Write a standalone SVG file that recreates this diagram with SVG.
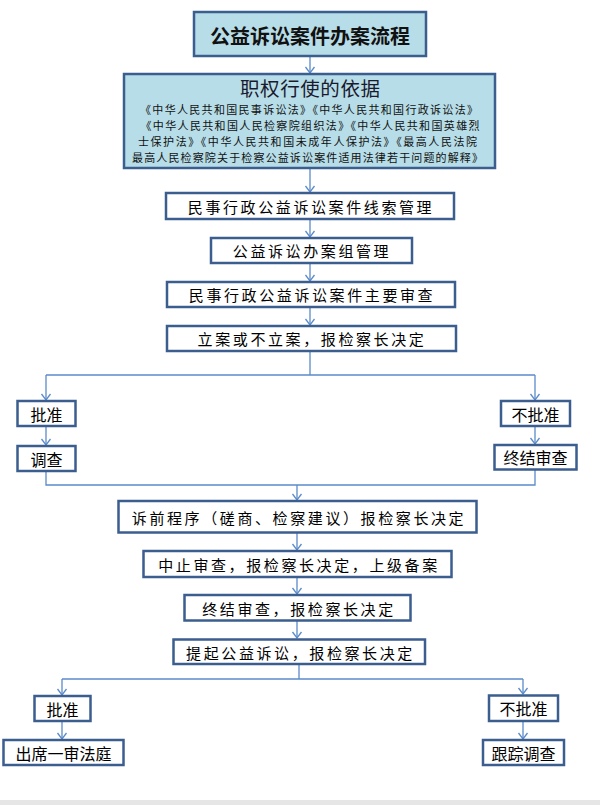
<svg xmlns="http://www.w3.org/2000/svg" width="600" height="805" viewBox="0 0 600 805">
<defs>
<style>
.box{fill:#ffffff;stroke:#3b5e8f;stroke-width:2.5}
.hl{fill:#b7dde8}
.t{font-family:"Noto Sans CJK SC","Liberation Sans",sans-serif;font-size:15px;letter-spacing:2.6px;fill:#000;text-anchor:middle;dominant-baseline:central}
.s{font-family:"Noto Sans CJK SC","Liberation Sans",sans-serif;font-size:16px;fill:#000;text-anchor:middle;dominant-baseline:central}
.law{font-family:"Noto Sans CJK SC","Liberation Sans",sans-serif;font-size:11px;fill:#111;text-anchor:middle}
.c{fill:none;stroke:#5b8bc9;stroke-width:1.3}
.a{marker-end:url(#ah)}
</style>
<marker id="ah" markerUnits="userSpaceOnUse" markerWidth="12" markerHeight="12" viewBox="0 0 12 12" refX="7" refY="6" orient="auto">
<path d="M1,1.5 L7,6 L1,10.5" fill="none" stroke="#5b8bc9" stroke-width="1.3"/>
</marker>
</defs>
<rect x="0" y="0" width="600" height="805" fill="#ffffff"/>
<rect x="0" y="800" width="600" height="5" fill="#e6e6e6"/>
<g id="connectors">
<path class="c a" d="M310,56 V73"/>
<path class="c a" d="M310,168 V192"/>
<path class="c a" d="M310,219 V237"/>
<path class="c a" d="M310,263 V281"/>
<path class="c a" d="M310,307 V325"/>
<path class="c" d="M310,351 V375 M46,375 H535"/>
<path class="c a" d="M46,375 V400"/>
<path class="c a" d="M535,375 V400"/>
<path class="c a" d="M46,426 V445"/>
<path class="c a" d="M535,426 V444"/>
<path class="c" d="M46,471 V485 H535 V469"/>
<path class="c a" d="M297,485 V500"/>
<path class="c a" d="M297,533 V550"/>
<path class="c a" d="M297,577 V594"/>
<path class="c a" d="M297,621 V638"/>
<path class="c" d="M299,664 V679 M62,679 H523"/>
<path class="c a" d="M62,679 V695"/>
<path class="c a" d="M523,679 V694"/>
<path class="c a" d="M62,721 V739"/>
<path class="c a" d="M523,721 V739"/>
</g>
<g id="n-title">
<rect class="box hl" x="194" y="12" width="232" height="44"/>
<text x="310" y="35" font-family="Noto Sans CJK SC,Liberation Sans,sans-serif" font-size="20" font-weight="bold" fill="#111" text-anchor="middle" dominant-baseline="central">公益诉讼案件办案流程</text>
</g>
<g id="n-basis">
<rect class="box hl" x="124" y="74" width="371" height="94"/>
<text x="310" y="95.5" font-family="Noto Sans CJK SC,Liberation Sans,sans-serif" font-size="19.5" fill="#1a1a2e" text-anchor="middle" textLength="140" lengthAdjust="spacing">职权行使的依据</text>
<text class="law" x="309" y="113.8" textLength="338" lengthAdjust="spacing">《中华人民共和国民事诉讼法》《中华人民共和国行政诉讼法》</text>
<text class="law" x="310" y="129.7" textLength="339" lengthAdjust="spacing">《中华人民共和国人民检察院组织法》《中华人民共和国英雄烈</text>
<text class="law" x="307.5" y="145.6" textLength="339" lengthAdjust="spacing">士保护法》《中华人民共和国未成年人保护法》《最高人民法院</text>
<text class="law" x="307.5" y="161.5" textLength="351" lengthAdjust="spacing">最高人民检察院关于检察公益诉讼案件适用法律若干问题的解释》</text>
</g>
<g id="n-clue">
<rect class="box" x="166" y="193" width="288" height="26"/>
<text class="t" x="311" y="206">民事行政公益诉讼案件线索管理</text>
</g>
<g id="n-group">
<rect class="box" x="211" y="238" width="201" height="25"/>
<text class="t" x="312" y="250.5">公益诉讼办案组管理</text>
</g>
<g id="n-review">
<rect class="box" x="167" y="282" width="288" height="25"/>
<text class="t" x="312" y="294.5">民事行政公益诉讼案件主要审查</text>
</g>
<g id="n-file">
<rect class="box" x="167" y="326" width="289" height="25"/>
<text class="t" x="312" y="338.5">立案或不立案，报检察长决定</text>
</g>
<g id="n-approve1">
<rect class="box" x="17.5" y="401" width="58" height="25"/>
<text class="s" x="46.5" y="413.5">批准</text>
</g>
<g id="n-investigate">
<rect class="box" x="17.5" y="446" width="58" height="25"/>
<text class="s" x="46.5" y="458.5">调查</text>
</g>
<g id="n-reject1">
<rect class="box" x="501" y="401" width="69" height="25"/>
<text class="s" x="535.5" y="413.5">不批准</text>
</g>
<g id="n-end1">
<rect class="box" x="494.5" y="445" width="82" height="24.5"/>
<text class="s" x="535.5" y="457">终结审查</text>
</g>
<g id="n-prelit">
<rect class="box" x="118.5" y="501" width="358" height="31.5"/>
<text class="t" x="299" y="517">诉前程序（磋商、检察建议）报检察长决定</text>
</g>
<g id="n-suspend">
<rect class="box" x="143.5" y="551" width="308" height="26"/>
<text class="t" x="299" y="564">中止审查，报检察长决定，上级备案</text>
</g>
<g id="n-terminate">
<rect class="box" x="184.5" y="595" width="226" height="25.5"/>
<text class="t" x="299" y="608">终结审查，报检察长决定</text>
</g>
<g id="n-sue">
<rect class="box" x="173.5" y="639.5" width="251.5" height="24.5"/>
<text class="t" x="300.5" y="652">提起公益诉讼，报检察长决定</text>
</g>
<g id="n-approve2">
<rect class="box" x="34.5" y="696" width="56" height="25"/>
<text class="s" x="62.5" y="708.5">批准</text>
</g>
<g id="n-reject2">
<rect class="box" x="489" y="695.5" width="69" height="25.5"/>
<text class="s" x="523.5" y="708">不批准</text>
</g>
<g id="n-court">
<rect class="box" x="3.5" y="740" width="120" height="25"/>
<text class="s" x="63.5" y="752.5">出席一审法庭</text>
</g>
<g id="n-track">
<rect class="box" x="483" y="740" width="81" height="25"/>
<text class="s" x="523.5" y="752.5">跟踪调查</text>
</g>
</svg>
